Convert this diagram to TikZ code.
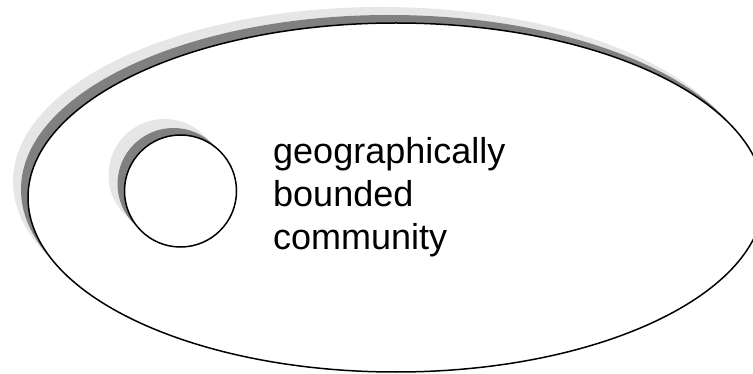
\documentclass[tikz,border=0pt]{standalone}
\usepackage{fontspec}
\setmainfont{Liberation Sans}
\usetikzlibrary{shapes.geometric}
\definecolor{shadowdark}{RGB}{128,128,128}
\definecolor{shadowlight}{RGB}{230,230,230}
\begin{document}
\begin{tikzpicture}[x=1pt,y=-1pt,
  outline/.style={draw=black,line width=1.5pt,fill=white},
  darkshade/.style={fill=shadowdark},
  lightshade/.style={fill=shadowlight},
  labeltext/.style={font=\fontsize{36}{43}\selectfont,align=left,inner sep=0pt,anchor=base west}]
\useasboundingbox (0,0) rectangle (753,374);
% outer ellipse with its shadows
\fill[lightshade] (381,181.5) ellipse [x radius=368, y radius=174.5];
\fill[darkshade] (389,189.5) ellipse [x radius=368, y radius=174.5];
\draw[outline] (396,197.5) ellipse [x radius=368, y radius=174.5];
% inner circle with its shadows
\fill[lightshade] (164.5,175) circle [radius=56];
\fill[darkshade] (173.5,184) circle [radius=56];
\draw[outline] (180.5,191) circle [radius=56];
% text (base anchor = baseline of the last line)
\node[labeltext] (label) at (273,250) {geographically\\bounded\\community};
\end{tikzpicture}
\end{document}
